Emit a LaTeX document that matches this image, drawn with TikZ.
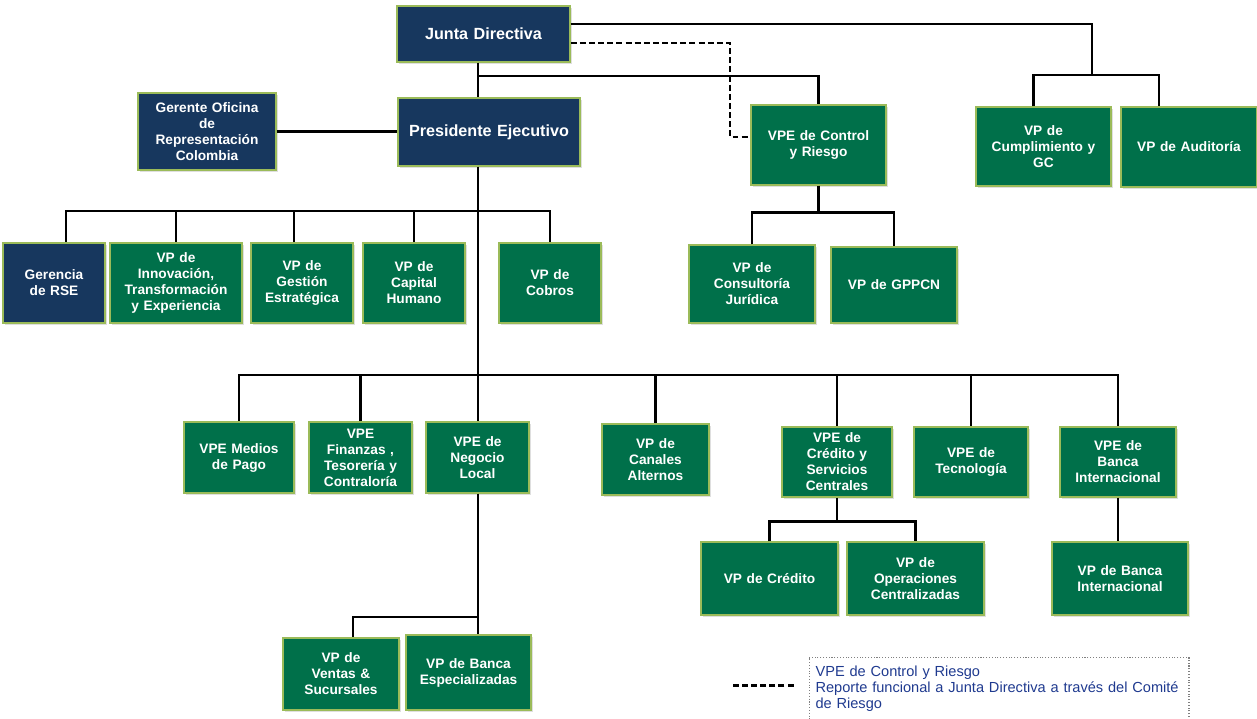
\documentclass[tikz,border=0pt]{standalone}
\usepackage{fontspec}
\setmainfont{Liberation Sans}
\usepackage{tikz}
\usetikzlibrary{shadows, calc}
\definecolor{navyorg}{HTML}{17375E}
\definecolor{greenorg}{HTML}{00704A}
\definecolor{edgeorg}{HTML}{9BBB59}
\definecolor{legendtext}{HTML}{1F3A8F}
\tikzset{
  orgbox/.style 2 args={draw=edgeorg, line width=0.8pt, text=white, align=center,
    minimum width=#1*0.02cm, minimum height=#2*0.02cm, text width=#1*0.02cm-6pt,
    inner sep=2pt, font=\bfseries\fontsize{7.8}{9.1}\selectfont,
    drop shadow={opacity=0.25, shadow xshift=1.2pt, shadow yshift=-1.2pt}},
  navybox/.style 2 args={orgbox={#1}{#2}, fill=navyorg},
  greenbox/.style 2 args={orgbox={#1}{#2}, fill=greenorg},
  link/.style={line width=1.4pt, black},
  dashlink/.style={line width=1.3pt, black, dash pattern=on 3.4pt off 1.8pt}
}

\begin{document}
\begin{tikzpicture}[x=0.02cm, y=-0.02cm]
    \useasboundingbox (0,0) rectangle (1257,719);
    % top
    \node[navybox={173}{56}, font=\bfseries\fontsize{9.2}{11}\selectfont] (junta) at (483.5,34) {Junta Directiva};
    \node[navybox={182}{68}, font=\bfseries\fontsize{9.2}{11}\selectfont] (pres) at (489,132) {Presidente Ejecutivo};
    \node[navybox={138}{77}] (gerente) at (207,131.5) {Gerente Oficina\\de\\Representación\\Colombia};
    \node[greenbox={135}{80}] (control) at (818.5,145) {VPE de Control\\y Riesgo};
    \node[greenbox={135}{79}] (cumpl) at (1043.5,146.5) {VP de\\Cumplimiento y\\GC};
    \node[greenbox={136}{80}] (audit) at (1189,147) {VP de Auditoría};
    \node[greenbox={126}{78}] (consult) at (752,284) {VP de\\Consultoría\\Jurídica};
    \node[greenbox={126}{76}] (gppcn) at (894,285) {VP de GPPCN};
    % second row
    \node[navybox={102}{80}] (rse) at (54,283) {Gerencia\\de RSE};
    \node[greenbox={132}{80}] (innov) at (176,283) {VP de\\Innovación,\\Transformación\\y Experiencia};
    \node[greenbox={102}{80}] (gestion) at (302,283) {VP de\\Gestión\\Estratégica};
    \node[greenbox={102}{80}] (capital) at (414,283) {VP de\\Capital\\Humano};
    \node[greenbox={102}{80}] (cobros) at (550,283) {VP de\\Cobros};
    % third row
    \node[greenbox={110}{71}] (medios) at (239,457.5) {VPE Medios\\de Pago};
    \node[greenbox={103}{71}] (finanzas) at (360.5,457.5) {VPE\\Finanzas ,\\Tesorería y\\Contraloría};
    \node[greenbox={103}{71}] (negocio) at (477.5,457.5) {VPE de\\Negocio\\Local};
    \node[greenbox={107}{71}] (canales) at (655.5,459.5) {VP de\\Canales\\Alternos};
    \node[greenbox={110}{70}] (credserv) at (837,462) {VPE de\\Crédito y\\Servicios\\Centrales};
    \node[greenbox={114}{70}] (tecno) at (971,462) {VPE de\\Tecnología};
    \node[greenbox={116}{70}] (bancaint) at (1118,462) {VPE de\\Banca\\Internacional};
    % fourth row
    \node[greenbox={137}{73}] (credito) at (769.5,578.5) {VP de Crédito};
    \node[greenbox={137}{73}] (operac) at (915.5,578.5) {VP de\\Operaciones\\Centralizadas};
    \node[greenbox={136}{73}] (bancaint2) at (1120,578.5) {VP de Banca\\Internacional};
    \node[greenbox={116}{72}] (ventas) at (341,674) {VP de\\Ventas \&\\Sucursales};
    \node[greenbox={125}{75}] (bancaesp) at (468.5,672.5) {VP de Banca\\Especializadas};
    % legend
    \node[draw=gray, densely dotted, line width=0.6pt, minimum width=7.6cm, minimum height=1.24cm,
      text width=7.34cm, align=left, inner sep=0pt, text=legendtext,
      font=\fontsize{8.3}{9}\selectfont] (legend) at (999,688.5)
      {VPE de Control y Riesgo\\Reporte funcional a Junta Directiva a través del Comité\\de Riesgo};
    \draw[dashlink] ([xshift=-0.3cm,yshift=0.06cm]legend.west) -- ++(-1.22cm,0cm);
    % connectors
    \coordinate (spine) at (478,76);
    \coordinate (bus2) at (478,211);
    \coordinate (bus3) at (478,375);
    \coordinate (nbus) at (478,617);
    \coordinate (dashc) at (730,137);
    \coordinate (audbus) at (1092,75);
    \draw[link] (junta.south -| spine) -- (pres.north -| spine);
    \draw[link] (spine) -| (control.north);
    \draw[link] ([yshift=0.2cm]junta.east) -| (audbus);
    \draw[link] ([xshift=-0.2cm]cumpl.north) |- (audbus) -| ([xshift=-0.6cm]audit.north);
    \draw[dashlink] ([yshift=-0.18cm]junta.east) -| (dashc) -- (control.west |- dashc);
    \draw[link] (gerente.east) -- (gerente.east -| pres.west);
    \draw[link] (control.south) -- ++(0cm,-0.54cm) coordinate (rbus);
    \draw[link] (consult.north) |- (rbus) -| (gppcn.north);
    \draw[link] (pres.south -| spine) -- (negocio.north -| spine);
    \foreach \n/\s in {rse/0.24,innov/0,gestion/-0.16,capital/0,cobros/0}
      \draw[link] (bus2) -| ([xshift=\s cm]\n.north);
    \foreach \n in {medios,finanzas,canales,credserv,tecno,bancaint}
      \draw[link] (bus3) -| (\n.north);
    \draw[link] (negocio.south -| spine) -- (bancaesp.north -| spine);
    \draw[link] (nbus) -| ([xshift=0.24cm]ventas.north);
    \draw[link] (credserv.south) -- ++(0cm,-0.48cm) coordinate (cbus);
    \draw[link] (credito.north) |- (cbus) -| (operac.north);
    \draw[link] (bancaint.south) -- (bancaint.south |- bancaint2.north);
\end{tikzpicture}
\end{document}
